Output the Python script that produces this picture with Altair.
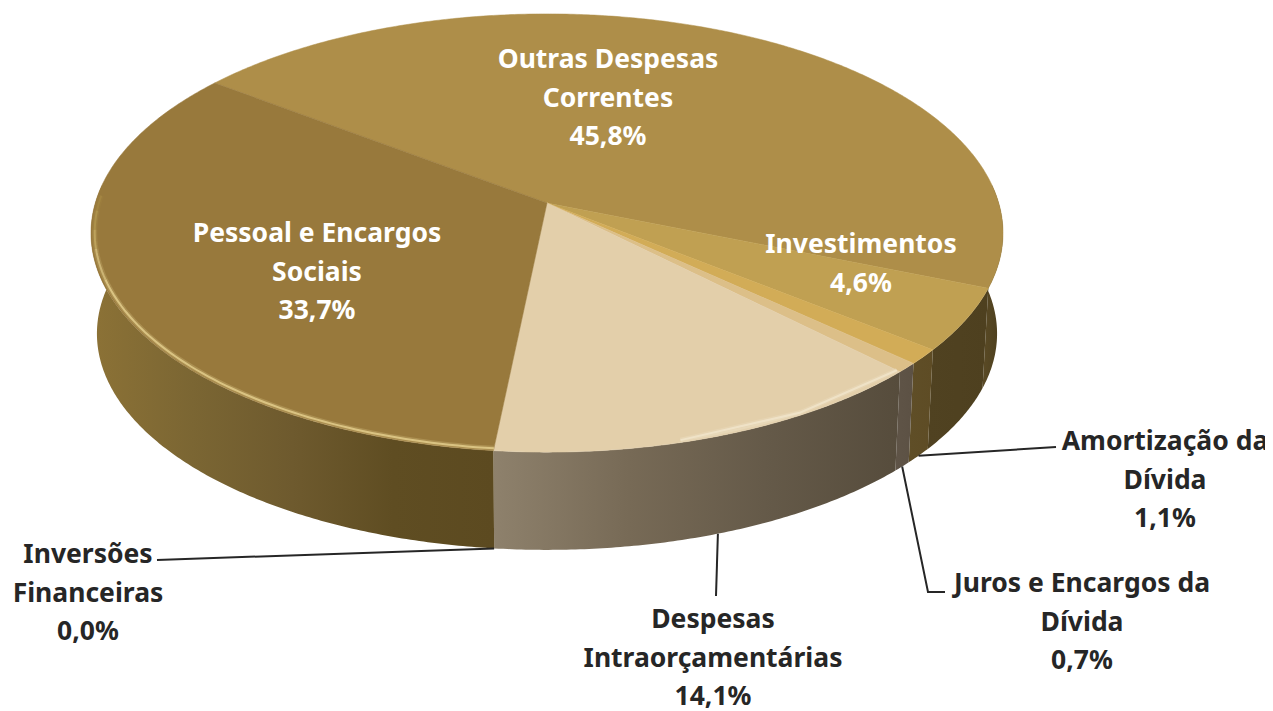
import math
import altair as alt

# values (percent), clockwise from the start of the first slice
names = ["Outras Despesas Correntes", "Investimentos", "Amortização da Dívida",
         "Juros e Encargos da Dívida", "Despesas Intraorçamentárias",
         "Inversões Financeiras", "Pessoal e Encargos Sociais"]
shares = [45.8, 4.6, 1.1, 0.7, 14.1, 0.0, 33.7]
top_colors = ["#AE8E49", "#C0A052", "#D2AC57", "#DCBF88", "#E3CFAA", "#E3CFAA", "#98793C"]
wall_stops = [["#5A4A25", "#4A3D1D"], ["#504221", "#4E401F"], ["#5F4E27", "#5E4C25"],
              ["#5F5447", "#5C5144"], ["#8E816C", "#776A56", "#655A49", "#564C3C"],
              ["#8E816C", "#8E816C"], ["#8C7236", "#7B6633", "#6E5A2E", "#5F4D22", "#5C4A20"]]
label_lines = [["Outras Despesas", "Correntes", "45,8%"], ["Investimentos", "4,6%"],
               ["Amortização da", "Dívida", "1,1%"], ["Juros e Encargos da", "Dívida", "0,7%"],
               ["Despesas", "Intraorçamentárias", "14,1%"], ["Inversões", "Financeiras", "0,0%"],
               ["Pessoal e Encargos", "Sociais", "33,7%"]]
label_x = [608, 861, 1165, 1082, 713, 88, 317]
label_y = [59, 244, 441, 583, 619, 554, 233]
label_color = ["#FFFFFF", "#FFFFFF", "#262626", "#262626", "#262626", "#262626", "#FFFFFF"]
leader_end = [None, None, [(1056, 447)], [(928, 592), (945, 592)], [(716, 596)], [(157, 560)], None]

M = 8
CX, CY, A, B, P = 547, 203, 451.7, 215, 0.137
S, CY2 = 0.987, 304
START = -52.8


def pt(deg, bottom=False, k=1.0):
    t = math.radians(deg)
    u, v = math.sin(t) * k, math.cos(t) * k
    d = 1 + P * v
    s, cy = (S, CY2) if bottom else (1, CY)
    return [CX + s * A * u / d - M, cy - s * B * v / d - M]


def feature(kind, coords, color):
    return {"type": "Feature", "properties": {"c": color},
            "geometry": {"type": kind, "coordinates": coords}}


def arc(a0, a1, step=0.5):
    n = max(2, int((a1 - a0) / step))
    return [a0 + (a1 - a0) * j / n for j in range(n + 1)]


edges = [START]
for s_ in shares:
    edges.append(edges[-1] + s_ * 3.6)
edges[-1] = START + 360


def shapes(data, **kw):
    return alt.Chart(alt.Data(values=data)).mark_geoshape(**kw)


wall_layers, tops, leaders, texts = [], [], [], []
for i, (a0, a1) in enumerate(zip(edges[:-1], edges[1:])):
    if a1 <= a0:
        continue
    apex = [CX - M, CY - M]
    tops.append(feature("Polygon", [[apex] + [pt(a) for a in arc(a0, a1)] + [apex]], top_colors[i]))
    w0, w1 = max(a0, 85), min(a1, 275)
    if w1 > w0:
        ring = [pt(a) for a in arc(w0, w1)] + [pt(a, True) for a in reversed(arc(w0, w1))]
        ring.append(ring[0])
        stops = wall_stops[i]
        # the picture's left edge is the far end of the clockwise sweep
        grad = alt.Gradient(gradient="linear", x1=0, x2=1, y1=0, y2=0,
                            stops=[alt.GradientStop(offset=o, color=c) for o, c in
                                   zip([j / (len(stops) - 1) for j in range(len(stops))], stops)])
        wall_layers.append(shapes([feature("Polygon", [ring], "w")], fill=grad, strokeWidth=0))

# bevel along the front rim, fading towards the left end
rim_features = []
rim_spans = [(edges[5], 250, "#E6D18F"), (250, 258, "#D6BF7E"), (258, 263, "#C4AA62"),
             (263, 268, "#B1964E"), (268, 272, "#A58843"), (150, 165, "#E9DABB"), (165, edges[4], "#F2E6CC")]
for a0, a1, col in rim_spans:
    rim_features.append(feature("LineString", [pt(a, k=0.992) for a in arc(a0, a1, 1.0)], col))

for i, ends in enumerate(leader_end):
    if not ends:
        continue
    mid = (edges[i] + edges[i + 1]) / 2
    line = [pt(mid, True)] + [[x - M, y - M] for x, y in ends]
    leaders.append(feature("LineString", line, "#262626"))

for i, lines in enumerate(label_lines):
    for j, s_ in enumerate(lines):
        texts.append({"t": s_, "lon": label_x[i] - M, "lat": label_y[i] + j * 38.7 - M + 1, "c": label_color[i]})

proj = alt.Projection(type="identity", scale=1, translate=[0, 0])

top_layer = shapes(tops, strokeWidth=0.5).encode(
    color=alt.Color("properties.c:N", scale=None, legend=None),
    stroke=alt.Stroke("properties.c:N", scale=None, legend=None))
glow_layer = shapes(rim_features, filled=False, strokeWidth=5, opacity=0.25).encode(
    stroke=alt.Stroke("properties.c:N", scale=None, legend=None))
rim_layer = shapes(rim_features, filled=False, strokeWidth=2, opacity=0.8).encode(
    stroke=alt.Stroke("properties.c:N", scale=None, legend=None))
leader_layer = shapes(leaders, filled=False, strokeWidth=2).encode(
    stroke=alt.Stroke("properties.c:N", scale=None, legend=None))
text_layer = alt.Chart(alt.Data(values=texts)).mark_text(
    font="Noto Sans", fontSize=26.5, fontWeight="bold", baseline="middle", align="center"
).encode(longitude="lon:Q", latitude="lat:Q", text="t:N",
         color=alt.Color("c:N", scale=None, legend=None))

chart = alt.layer(*wall_layers, leader_layer, top_layer, glow_layer, rim_layer, text_layer).properties(
    width=1257, height=703, projection=proj, padding=0,
    autosize=alt.AutoSizeParams(type="none")
).configure_view(stroke=None).configure(background="#FFFFFF")

chart.save("out.html", embed_options={"renderer": "svg", "actions": False})
